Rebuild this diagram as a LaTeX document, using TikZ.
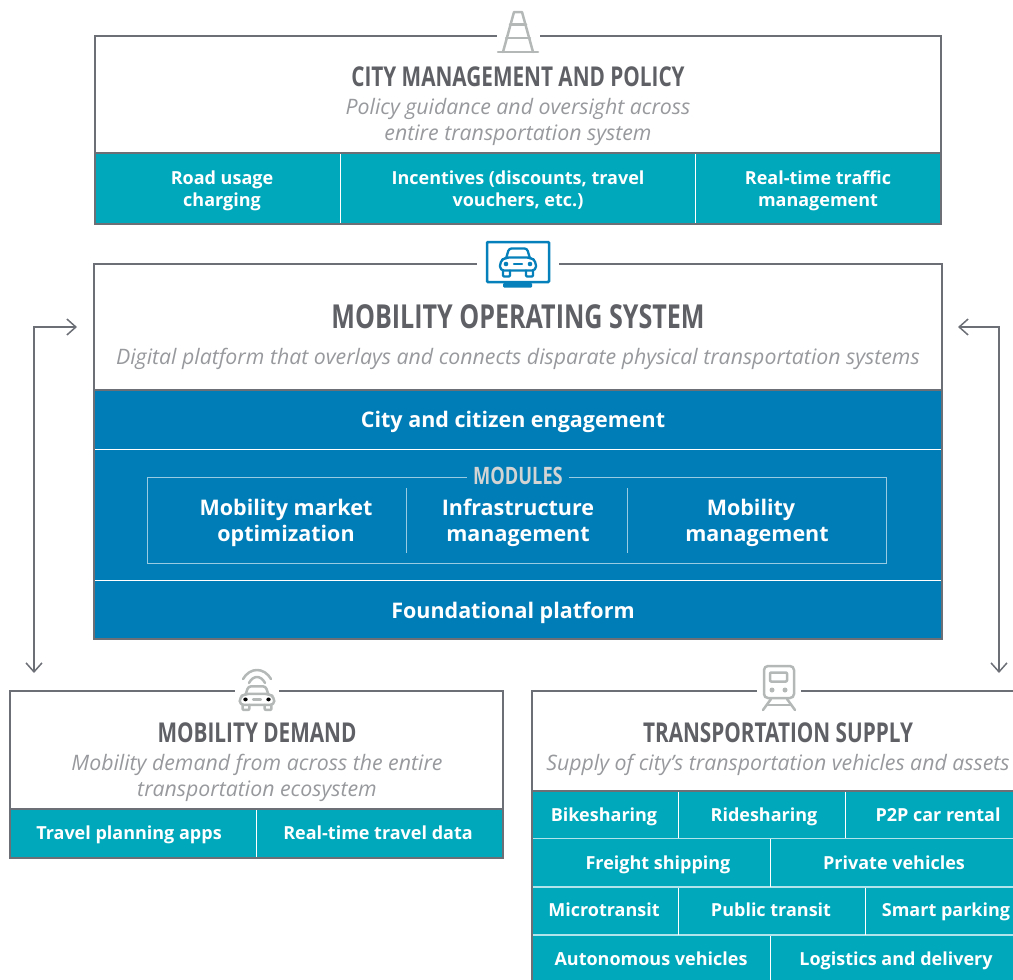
\documentclass[tikz,border=0pt]{standalone}
\usepackage{fontspec}
\setmainfont{Open Sans}
\newfontfamily\condfont[FakeStretch=0.76]{Open Sans}
\usepackage{tikz}
\usetikzlibrary{arrows.meta}

\definecolor{framegray}{HTML}{6C6F76}
\definecolor{titlegray}{HTML}{5E6066}
\definecolor{subgray}{HTML}{97999D}
\definecolor{icongray}{HTML}{B4B9B8}
\definecolor{cityteal}{HTML}{00A8BB}
\definecolor{osblue}{HTML}{007CB7}
\definecolor{iconblue}{HTML}{0580BA}
\definecolor{modgray}{HTML}{D2D4D4}

\tikzset{
  panel/.style={draw=framegray,line width=1.3pt,outer sep=0pt,fill=white,anchor=north west,inner sep=0pt},
  band/.style={panel,fill=#1},
  iconmask/.style={fill=white,inner sep=0pt,minimum height=12pt},
  bigtitle/.style={text=titlegray,font=\condfont\bfseries\fontsize{27.3}{30}\selectfont},
  subtitle/.style={text=subgray,align=center,font=\itshape\fontsize{21.3}{26}\selectfont},
  celltext/.style={text=white,align=center,font=\bfseries\fontsize{18}{22}\selectfont},
  rowtext/.style={celltext,anchor=base},
  blocktext/.style={text=white,align=center,font=\bfseries\fontsize{21.5}{26}\selectfont},
  sep/.style={draw=white,line width=1pt},
  rowsep/.style={draw=white!70!cityteal,line width=1.2pt},
  thinsep/.style={draw=white!60!osblue,line width=1pt},
  flow/.style={draw=framegray,line width=1.5pt,{Straight Barb[length=9pt,width=16pt]}-{Straight Barb[length=9pt,width=16pt]}},
  gicon/.style={draw=icongray,line width=2.5pt,line cap=round,line join=round},
  caricon/.pic={
    \draw[rounded corners=2.5pt] (-12,-5) -- (-9,-15) -- (9,-15) -- (12,-5);
    \draw[rounded corners=4pt] (-18,7) -- (-18,-2) -- (-13,-6) -- (13,-6) -- (18,-2) -- (18,7) -- cycle;
    \draw[rounded corners=1pt] (-15,7) -- (-15,13) -- (-8,13) -- (-8,7);
    \draw[rounded corners=1pt] (15,7) -- (15,13) -- (8,13) -- (8,7);
    \fill (-12,0.5) circle (2.3pt);
    \fill (12,0.5) circle (2.3pt);
    \draw (-4,0.5) -- (4,0.5);
  }
}

\begin{document}
\begin{tikzpicture}[x=1pt,y=-1pt]
  \path[use as bounding box,clip] (0,0) rectangle (1013,980);

  % city panel
  \node[panel,minimum width=846pt,minimum height=188pt] (citybox) at (95,36) {};
  \node[band=cityteal,minimum width=846pt,minimum height=71pt] (cityband) at (95,153) {};
  \draw[sep] (340,154) -- (340,223);
  \draw[sep] (695,154) -- (695,223);
  \node[iconmask,minimum width=43pt] (citymask) at (518.5,36) {};
  \draw[gicon] (498,52) -- (538,52);
  \draw[gicon] (503,52) -- (514,12) -- (522,12) -- (533,52);
  \draw[gicon] (510,24.5) -- (526,24.5);
  \draw[gicon] (506,38) -- (530,38);
  \node[bigtitle] (citytitle) at (518,77) {CITY MANAGEMENT AND POLICY};
  \node[subtitle] (citysub) at (518,121.5) {Policy guidance and oversight across\\entire transportation system};
  \node[celltext] (citycell1) at (222,191) {Road usage\\charging};
  \node[celltext] (citycell2) at (518,190) {Incentives (discounts, travel\\vouchers, etc.)};
  \node[celltext] (citycell3) at (818,191) {Real-time traffic\\management};

  % operating system panel
  \node[panel,minimum width=848pt,minimum height=375pt] (osbox) at (94,264) {};
  \node[band=osblue,minimum width=848pt,minimum height=249pt] (osband) at (94,390) {};
  \draw[sep] (95,449.5) -- (941,449.5);
  \draw[sep] (95,580.5) -- (941,580.5);
  \draw[thinsep] (147,477) rectangle (886,563);
  \draw[thinsep] (406,488) -- (406,553);
  \draw[thinsep] (627,488) -- (627,553);
  \node[iconmask,minimum width=82pt] (osmask) at (518,264) {};
  \draw[iconblue,line width=2.5pt,rounded corners=1pt] (487,242) rectangle (549,282);
  \fill[iconblue,rounded corners=1pt] (503,283) rectangle (532,287.5);
  \begin{scope}[iconblue,line width=2.3pt,line cap=round,line join=round]
    \pic at (518,263.5) {caricon};
  \end{scope}
  \node[bigtitle,font=\condfont\bfseries\fontsize{33}{40}\selectfont] (ostitle) at (518,317) {MOBILITY OPERATING SYSTEM};
  \node[subtitle] (ossub) at (518,359) {Digital platform that overlays and connects disparate physical transportation systems};
  \node[blocktext] (engage) at (513,422) {City and citizen engagement};
  \node[fill=osblue,inner xsep=6pt,inner ysep=0pt,text=modgray,font=\condfont\bfseries\fontsize{24}{26}\selectfont] (modules) at (518,476) {MODULES};
  \node[blocktext] (market) at (286,523) {Mobility market\\optimization};
  \node[blocktext] (infra) at (518,523) {Infrastructure\\management};
  \node[blocktext] (mobman) at (757,523) {Mobility\hspace*{12pt}\\management};
  \node[blocktext] (found) at (513,613) {Foundational platform};

  % demand panel
  \node[panel,minimum width=493pt,minimum height=167pt] (demandbox) at (10,691) {};
  \node[band=cityteal,minimum width=493pt,minimum height=49pt] (demandband) at (10,809) {};
  \draw[sep] (256,810) -- (256,857);
  \node[iconmask,minimum width=44pt] (demandmask) at (257,691) {};
  \begin{scope}[gicon]
    \pic[xscale=0.96,yscale=0.84] at (257,699) {caricon};
    \draw (243,679) .. controls (250,667) and (264,667) .. (271,679);
    \draw (249,683) .. controls (253,675) and (261,675) .. (265,683);
  \end{scope}
  \node[bigtitle] (demandtitle) at (257,733) {MOBILITY DEMAND};
  \node[subtitle] (demandsub) at (257,777.5) {Mobility demand from across the entire\\transportation ecosystem};
  \node[rowtext] (demandcell1) at (129,839) {Travel planning apps};
  \node[rowtext] (demandcell2) at (378,839) {Real-time travel data};

  % supply panel
  \node[panel,minimum width=490pt,minimum height=300pt] (supplybox) at (532,691) {};
  \node[band=cityteal,minimum width=490pt,minimum height=200pt] (supplyband) at (532,791) {};
  \foreach \y in {838.5,887,935} {
    \draw[rowsep] (533,\y) -- (1013,\y);
  }
  \foreach \x/\ya/\yb in {678/792/838,845/792/838,770/839/886.5,678/887.5/934.5,865/887.5/934.5,770/935.5/980} {
    \draw[sep] (\x,\ya) -- (\x,\yb);
  }
  \node[iconmask,minimum width=44pt] (supplymask) at (779,691) {};
  \draw[gicon,rounded corners=4pt] (764,666) rectangle (794,698);
  \draw[gicon,rounded corners=1pt] (770,672.5) rectangle (787,681.5);
  \fill[icongray] (772,690) circle (2.5pt);
  \fill[icongray] (785,690) circle (2.5pt);
  \draw[gicon] (771,699) -- (763,710);
  \draw[gicon] (787,699) -- (795,710);
  \draw[gicon] (767,705) -- (791,705);
  \node[bigtitle] (supplytitle) at (778,733) {TRANSPORTATION SUPPLY};
  \node[subtitle] (supplysub) at (778,764.5) {Supply of city's transportation vehicles and assets};
  \foreach \nm/\x/\y/\txt in {bike/604/821/Bikesharing,ride/764/821/Ridesharing,rental/938/821/P2P car rental,
      freight/658/869/Freight shipping,privat/894/869/Private vehicles,
      micro/604/916.5/Microtransit,public/771/916.5/Public transit,parking/946/916.5/Smart parking,
      auto/651/965/Autonomous vehicles,logistic/896/965/Logistics and delivery} {
    \node[rowtext] (\nm) at (\x,\y) {\txt};
  }

  % arrows
  \coordinate (osleft) at (77,327);
  \coordinate (demandtop) at (34,673);
  \coordinate (osright) at (958,327);
  \coordinate (supplytop) at (999,673);
  \draw[flow] (osleft) -| (demandtop);
  \draw[flow] (osright) -| (supplytop);
\end{tikzpicture}
\end{document}
